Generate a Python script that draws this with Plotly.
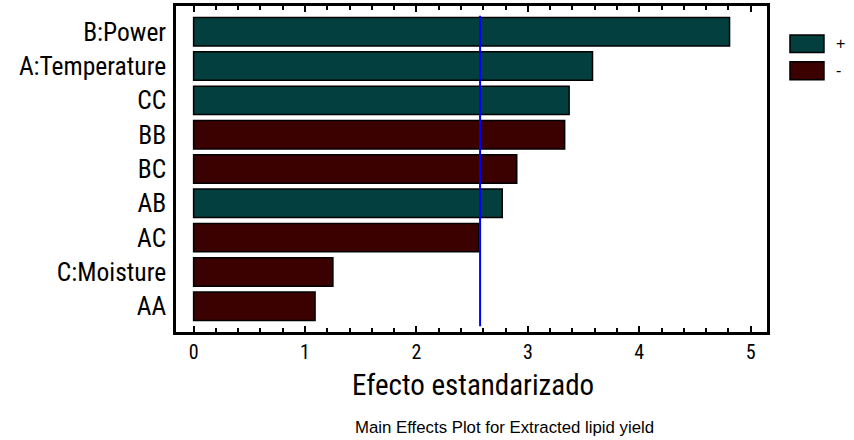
import plotly.graph_objects as go

factors = ["B:Power", "A:Temperature", "CC", "BB", "BC", "AB", "AC", "C:Moisture", "AA"]
effects = [4.81, 3.58, 3.37, 3.33, 2.90, 2.77, 2.56, 1.25, 1.09]
signs = ["+", "+", "+", "-", "-", "+", "-", "-", "-"]
critical_value = 2.571
x_tick_values = [0, 1, 2, 3, 4, 5]
x_axis_title = "Efecto estandarizado"
subtitle = "Main Effects Plot for Extracted lipid yield"
legend_labels = ["+", "-"]

POS_COLOR = "#033f3f"
NEG_COLOR = "#3b0000"
sign_color = {"+": POS_COLOR, "-": NEG_COLOR}
NARROW = "Liberation Sans Narrow, Arial Narrow, Roboto Condensed, sans-serif"
ARIAL = "Liberation Sans, Arial, sans-serif"

fig = go.Figure()
fig.add_trace(go.Bar(
    x=effects, y=factors, orientation="h",
    marker=dict(color=[sign_color[s] for s in signs],
                line=dict(color="black", width=1.5)),
    width=0.83, showlegend=False, hoverinfo="x+y",
))

# critical value reference line
fig.add_shape(type="line", xref="x", yref="y domain",
              x0=critical_value, x1=critical_value, y0=0.018, y1=0.97,
              line=dict(color="#0000ff", width=2), layer="above")

# legend (boxes + labels)
legend_y = [(0.857, 0.911), (0.774, 0.829)]
for lab, (y0, y1) in zip(legend_labels, legend_y):
    fig.add_shape(type="rect", xref="paper", yref="paper",
                  x0=1.0389, x1=1.0964, y0=y0, y1=y1,
                  fillcolor=sign_color[lab], line=dict(color="black", width=1.5))
    fig.add_annotation(xref="paper", yref="paper", x=1.114, y=(y0 + y1) / 2,
                       text=lab, showarrow=False, xanchor="left", yanchor="middle",
                       font=dict(family=ARIAL, size=16, color="black"))

fig.add_annotation(xref="paper", yref="paper", x=0.5025, y=-0.164,
                   text=x_axis_title, showarrow=False, xanchor="center", yanchor="middle",
                   font=dict(family=NARROW, size=29, color="black"))
fig.add_annotation(xref="paper", yref="paper", x=0.2995, y=-0.292,
                   text=subtitle, showarrow=False, xanchor="left", yanchor="middle",
                   font=dict(family=ARIAL, size=16.8, color="black"))

fig.update_layout(
    width=854, height=440,
    margin=dict(l=176, r=87, t=3, b=108),
    plot_bgcolor="white", paper_bgcolor="white",
    bargap=0.17,
    xaxis=dict(range=[-0.158, 5.146], tickvals=x_tick_values,
               ticks="inside", ticklen=6, tickwidth=1.5, tickcolor="black",
               minor=dict(dtick=0.2, ticks="inside", ticklen=4, tickwidth=1.5, tickcolor="black"),
               showline=True, linecolor="black", linewidth=2.5, mirror="ticks",
               showgrid=False, zeroline=False,
               tickfont=dict(family=NARROW, size=20, color="black"),
               ticklabelstandoff=0),
    yaxis=dict(range=[8.75, -0.75], type="category",
               categoryorder="array", categoryarray=factors,
               ticks="", ticklen=0, showline=True, linecolor="black", linewidth=2.5, mirror=True,
               showgrid=False, zeroline=False,
               tickfont=dict(family=NARROW, size=25.5, color="black"),
               ticklabelstandoff=2),
)

fig.write_html("out.html", config={"displayModeBar": False},
               post_script="document.body.style.margin='0';document.body.style.padding='0';")
